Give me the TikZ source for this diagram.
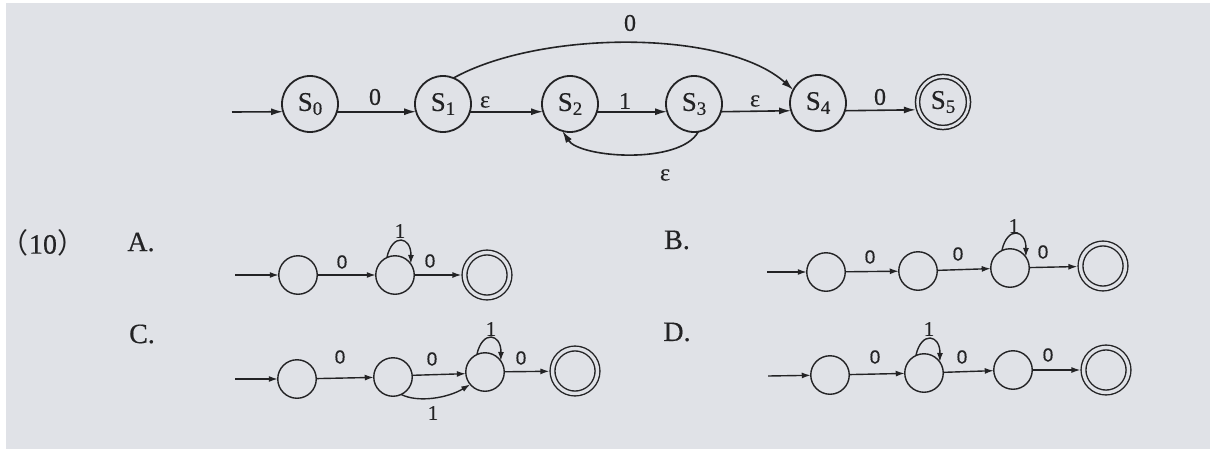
\documentclass[tikz,border=0pt]{standalone}
\usepackage{fontspec}
\setmainfont{Liberation Serif}[FakeBold=0.4]
\newfontfamily\sansf{Liberation Sans}[FakeBold=0.4]
\newfontfamily\cjk{Noto Sans CJK SC}
\usetikzlibrary{arrows.meta}
\definecolor{ink}{HTML}{232325}
\definecolor{paper}{HTML}{E0E2E7}
\newcommand\Sn[1]{\raisebox{-6pt}{S\raisebox{-4pt}{\fontsize{19}{19}\selectfont #1}}}
\begin{document}
\begin{tikzpicture}[x=1pt,y=-1pt,
  every node/.style={text=ink},
  st/.style={circle,draw=ink,line width=1.8pt,minimum size=56pt,inner sep=0pt,outer sep=0pt,font=\fontsize{27}{27}\selectfont},
  stacc/.style={circle,draw=ink,line width=1.5pt,double=paper,double distance=2.6pt,minimum size=51pt,inner sep=0pt,outer sep=2.8pt,font=\fontsize{27}{27}\selectfont},
  sm/.style={circle,draw=ink,line width=1.4pt,minimum size=38.5pt,inner sep=0pt,outer sep=0pt},
  smacc/.style={circle,draw=ink,line width=1.4pt,double=paper,double distance=3.4pt,minimum size=45pt,inner sep=0pt,outer sep=3.1pt},
  bigarr/.style={draw=ink,line width=1.6pt,-{Latex[length=12pt,width=7pt]}},
  smarr/.style={draw=ink,line width=1.4pt,-{Latex[length=9pt,width=6pt]}},
  toplab/.style={font=\fontsize{24}{24}\selectfont},
  zero/.style={font=\sansf\fontsize{19}{19}\selectfont},
  one/.style={font=\fontsize{21}{21}\selectfont},
  opt/.style={font=\fontsize{28}{28}\selectfont}
]
\useasboundingbox (0,0) rectangle (1214,450);
\fill[white] (0,0) rectangle (1214,450);
\fill[paper] (6,3) rectangle (1210,449);

% ---------- top NFA ----------
\node[st] (S0) at (310,104) {\Sn{0}};
\node[st] (S1) at (443,104) {\Sn{1}};
\node[st] (S2) at (570,104) {\Sn{2}};
\node[st] (S3) at (694,104) {\Sn{3}};
\node[st] (S4) at (818,103) {\Sn{4}};
\node[stacc] (S5) at (943,102) {\Sn{5}};
\coordinate (st0) at (232,112);
\draw[bigarr] (st0) -- (S0.196);
\draw[bigarr] (S0.-16) -- (S1.196);
\draw[bigarr] (S1.-16) -- (S2.196);
\draw[bigarr] (S2.-16) -- (S3.196);
\draw[bigarr] (S3.-16) -- (S4.196);
\draw[bigarr] (S4.-16) -- (S5.196);
\draw[bigarr] (S1.68) .. controls (540,30) and (725,29) .. (S4.152);
\draw[bigarr] (S3.-81) .. controls (680,165) and (580,158) .. (S2.-106);
\node[toplab] (t1) at (375,97) {0};
\node[toplab] (t2) at (485,102) {ε};
\node[toplab] (t3) at (625,101) {1};
\node[toplab] (t4) at (755,101) {ε};
\node[toplab] (t5) at (880,97) {0};
\node[toplab] (t6) at (630,23) {0};
\node[toplab] (t7) at (665,175) {ε};

% ---------- option labels ----------
\node[opt] (q10) at (43,243) {{\cjk （}10{\cjk ）}};
\node[opt] (oA) at (141,242) {A.};
\node[opt] (oC) at (142,334) {C.};
\node[opt] (oB) at (677,240) {B.};
\node[opt] (oD) at (677,332) {D.};

% ---------- A ----------
\node[sm] (A1) at (298,275) {};
\node[sm] (A2) at (395,275) {};
\node[smacc] (A3) at (487,275) {};
\coordinate (sa) at (235,275);
\draw[smarr] (sa) -- (A1);
\draw[smarr] (A1) -- (A2);
\draw[smarr] (A2) -- (A3);
\draw[smarr] (A2.115) .. controls +(5.5,-25) and +(0.6,-27.5) .. (A2.35);
\node[zero] (a1) at (342,262) {0};
\node[zero] (a2) at (430,261) {0};
\node[one] (a3) at (400,231) {1};

% ---------- C ----------
\node[sm] (C1) at (297,379) {};
\node[sm] (C2) at (393,377) {};
\node[sm] (C3) at (485,372) {};
\node[smacc] (C4) at (575,371) {};
\coordinate (sc) at (235,379);
\draw[smarr] (sc) -- (C1);
\draw[smarr] (C1) -- (C2);
\draw[smarr] (C2.5) -- (C3.185);
\draw[smarr] (C3) -- (C4);
\draw[smarr] (C2.-65) .. controls (418,403) and (448,398) .. (C3.-140);
\draw[smarr] (C3.115) .. controls +(5.5,-25) and +(0.6,-27.5) .. (C3.35);
\node[zero] (c1) at (340,357) {0};
\node[zero] (c2) at (432,359) {0};
\node[zero] (c3) at (521,358) {0};
\node[one] (c4) at (491,329) {1};
\node[one] (c5) at (433,413) {1};

% ---------- B ----------
\node[sm] (B1) at (826,272) {};
\node[sm] (B2) at (918,271) {};
\node[sm] (B3) at (1010,268) {};
\node[smacc] (B4) at (1103,266) {};
\coordinate (sb) at (767,272);
\draw[smarr] (sb) -- (B1);
\draw[smarr] (B1) -- (B2);
\draw[smarr] (B2) -- (B3);
\draw[smarr] (B3) -- (B4);
\draw[smarr] (B3.115) .. controls +(5.5,-25) and +(0.6,-27.5) .. (B3.35);
\node[zero] (b1) at (870,257) {0};
\node[zero] (b2) at (958,254) {0};
\node[zero] (b3) at (1043,252) {0};
\node[one] (b4) at (1014,226) {1};

% ---------- D ----------
\node[sm] (D1) at (830,375) {};
\node[sm] (D2) at (924,373) {};
\node[sm] (D3) at (1013,370) {};
\node[smacc] (D4) at (1106,370) {};
\coordinate (sd) at (768,376);
\draw[smarr] (sd) -- (D1);
\draw[smarr] (D1) -- (D2);
\draw[smarr] (D2) -- (D3);
\draw[smarr] (D3) -- (D4);
\draw[smarr] (D2.115) .. controls +(5.5,-25) and +(0.6,-27.5) .. (D2.35);
\node[zero] (d1) at (875,357) {0};
\node[zero] (d2) at (962,357) {0};
\node[zero] (d3) at (1048,355) {0};
\node[one] (d4) at (929,329) {1};
\end{tikzpicture}
\end{document}
